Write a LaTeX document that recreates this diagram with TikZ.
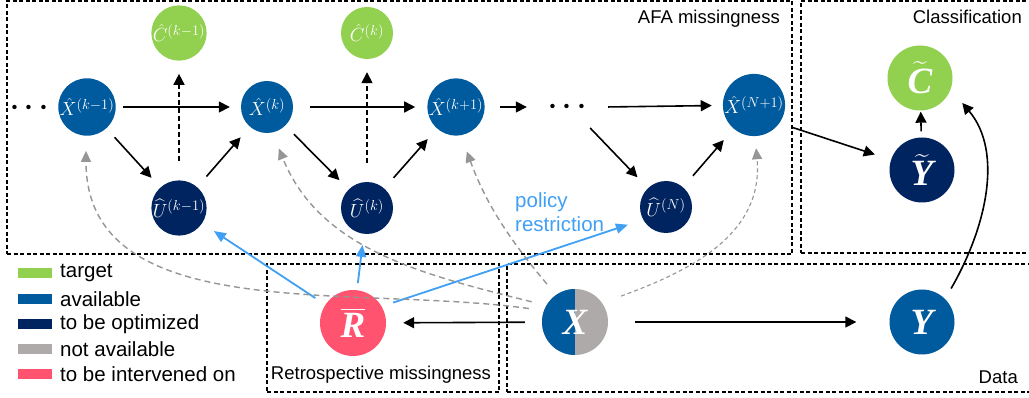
\RequirePackage{fix-cm}
\documentclass[tikz,border=0pt]{standalone}
\usepackage{amsmath}
\usepackage[no-math]{fontspec}
\setmainfont{Liberation Sans}
\newfontfamily\bigserif{Liberation Serif}
\usetikzlibrary{arrows.meta,calc}
\DeclareMathSizes{19}{19}{14.5}{11}
\definecolor{cgreen}{RGB}{146,208,80}
\definecolor{cblue}{RGB}{0,90,158}
\definecolor{cnavy}{RGB}{0,36,96}
\definecolor{cgray}{RGB}{174,170,170}
\definecolor{cpink}{RGB}{255,83,112}
\definecolor{cpolicy}{RGB}{64,160,245}
\definecolor{cdash}{RGB}{150,150,150}
\newcommand{\bigletter}[1]{\mbox{\bigserif\bfseries\itshape #1}}
\begin{document}
\begin{tikzpicture}[x=1pt,y=-1pt,
  nd/.style={circle,minimum size=52pt,inner sep=0pt,text=white,font=\fontsize{19}{19}\selectfont},
  bignd/.style={circle,minimum size=65pt,inner sep=0pt,text=white,font=\fontsize{37}{37}\selectfont},
  boxnd/.style={draw=black,line width=1.3pt,dash pattern=on 4pt off 2.5pt,inner sep=0pt},
  lbl/.style={font=\fontsize{18.5}{20}\selectfont,inner sep=0pt},
  leg/.style={font=\fontsize{20.5}{22}\selectfont,inner sep=0pt,anchor=west},
  sw/.style={minimum width=34pt,minimum height=10pt,inner sep=0pt},
  arr/.style={line width=1.6pt,-{Triangle[length=11pt,width=11pt]}},
  darr/.style={arr,dash pattern=on 5pt off 3pt},
  garr/.style={line width=1.4pt,cdash,dash pattern=on 6pt off 4pt,-{Triangle[length=11pt,width=10pt]}},
  garrthin/.style={line width=1.1pt,cdash,dash pattern=on 4pt off 3pt,-{Triangle[length=11pt,width=10pt]}},
  barr/.style={line width=1.8pt,cpolicy,-{Triangle[length=12pt,width=10pt]}}]
\clip (0,0) rectangle (1029,398);
\fill[white] (0,0) rectangle (1029,398);
% boxes
\node[boxnd,minimum width=785pt,minimum height=253pt] (afa) at (399.5,127.5) {};
\node[boxnd,minimum width=240pt,minimum height=252pt] (cls) at (921,127) {};
\node[boxnd,minimum width=232pt,minimum height=128pt] (retro) at (383,328) {};
\node[boxnd,minimum width=533pt,minimum height=128pt] (data) at (773.5,328) {};
\node[lbl,anchor=east] (afal) at (780,19) {AFA missingness};
\node[lbl,anchor=east] (clsl) at (1022,17) {Classification};
\node[lbl] (retrol) at (381,375) {Retrospective missingness};
\node[lbl,anchor=east] (datal) at (1018,377) {Data};
% legend
\node[sw,fill=cgreen] (s1) at (35,273) {};
\node[sw,fill=cblue] (s2) at (35,299) {};
\node[sw,fill=cnavy] (s3) at (35,324) {};
\node[sw,fill=cgray] (s4) at (35,349) {};
\node[sw,fill=cpink] (s5) at (35,374) {};
\node[leg] (l1) at (60,273) {target};
\node[leg] (l2) at (60,299) {available};
\node[leg] (l3) at (60,324) {to be optimized};
\node[leg] (l4) at (60,349) {not available};
\node[leg] (l5) at (60,374) {to be intervened on};
% nodes
\node[nd,fill=cgreen] (ck1) at (179,33) {$\hat{C}^{(k-1)}$};
\node[nd,fill=cgreen] (ck) at (367,33) {$\hat{C}^{(k)}$};
\node[nd,fill=cblue] (xk1) at (87,107) {$\hat{X}^{(k-1)}$};
\node[nd,fill=cblue] (xk) at (267,107) {$\hat{X}^{(k)}$};
\node[nd,fill=cblue] (xkp1) at (456,107) {$\hat{X}^{(k+1)}$};
\node[nd,fill=cblue] (xN) at (754,105) {$\hat{X}^{(N+1)}$};
\node[nd,fill=cnavy] (uk1) at (179,208) {$\widehat{U}^{(k-1)}$};
\node[nd,fill=cnavy] (uk) at (367,208) {$\widehat{U}^{(k)}$};
\node[nd,fill=cnavy] (un) at (666,207) {$\widehat{U}^{(N)}$};
\node[inner sep=0pt,minimum width=30pt] (dots1) at (32,108) {\fontsize{28}{28}\selectfont$\boldsymbol{\cdots}$};
\node[inner sep=0pt,minimum width=70pt,minimum height=30pt] (dots2) at (570,107) {\raisebox{-5pt}{\fontsize{28}{28}\selectfont$\boldsymbol{\cdots}$}};
\node[bignd,fill=cgreen] (Ct) at (920,78) {$\widetilde{\bigletter{C}}$};
\node[bignd,fill=cnavy] (Yt) at (922,170) {$\widetilde{\bigletter{Y}}$};
\node[bignd,fill=cpink,minimum size=66pt] (R) at (353,323) {$\overline{\bigletter{R}}$};
\node[bignd,fill=cgray,minimum size=66pt,
  path picture={\fill[cblue] (path picture bounding box.south west) rectangle (path picture bounding box.north);}] (X) at (575,322) {\bigletter{X}};
\node[bignd,fill=cblue] (Y) at (922,322) {\bigletter{Y}};
\node[font=\fontsize{20.5}{24}\selectfont,text=cpolicy,align=left,anchor=west,inner sep=0pt] (pol) at (515,212) {policy\\restriction};
% black arrows
\draw[arr,shorten <=7pt,shorten >=11pt] (xk1) -- (xk);
\draw[arr,shorten <=17pt,shorten >=12pt] (xk) -- (xkp1);
\draw[arr,shorten <=15pt,shorten >=8pt] (xkp1) -- (dots2);
\draw[arr,shorten <=3pt,shorten >=11pt] (dots2.east) -- (xN);
\draw[arr,shorten <=12pt,shorten >=13pt] (xk1) -- (uk1);
\draw[arr,shorten <=14pt,shorten >=14pt] (uk1) -- (xk);
\draw[arr,shorten <=12pt,shorten >=13pt] (xk) -- (uk);
\draw[arr,shorten <=14pt,shorten >=14pt] (uk) -- (xkp1);
\draw[arr,shorten <=8pt,shorten >=15pt] (dots2) -- (un);
\draw[arr,shorten <=15pt,shorten >=15pt] (un) -- (xN);
\draw[darr,shorten <=19pt,shorten >=13pt] (uk1) -- (ck1);
\draw[darr,shorten <=19pt,shorten >=13pt] (uk) -- (ck);
\draw[arr,shorten >=17pt] (afa.east) -- (Yt);
\draw[arr,shorten <=6pt,shorten >=1pt] (Yt) -- (Ct);
\draw[arr,shorten <=12pt,shorten >=18pt] (Y.45) to[out=60,in=-50] (Ct.-20);
\draw[arr,shorten <=17pt,shorten >=17pt] (X) -- (R);
\draw[arr,shorten <=27pt,shorten >=33pt] (X) -- (Y);
% blue arrows
\draw[barr,shorten <=12pt,shorten >=14pt] (R) -- (uk1);
\draw[barr,shorten <=7pt,shorten >=11pt] (R) -- (uk);
\draw[barr,shorten <=12pt,shorten >=16pt] (R.30) -- (un.209);
% gray dashed
\draw[garr,shorten <=15pt,shorten >=15pt] (X.160) to[out=172,in=-90] (xk1.-92);
\draw[garr,shorten <=15pt,shorten >=17pt] (X.150) to[out=166,in=-68] (xk.-78);
\draw[garr,shorten <=14pt,shorten >=17pt] (X.125) to[out=130,in=-70] (xkp1.-80);
\draw[garrthin,shorten <=20pt,shorten >=12pt] (X.35) to[out=20,in=-85,looseness=1.1] (xN.-88);
\end{tikzpicture}
\end{document}
